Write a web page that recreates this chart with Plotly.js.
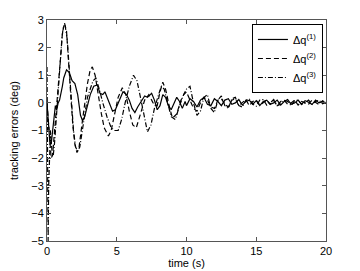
<!DOCTYPE html>
<html>
<head>
<meta charset="utf-8">
<script src="https://cdn.plot.ly/plotly-3.0.1.min.js"></script>
<style>html,body{margin:0;padding:0;background:#fff;}#chart{width:360px;height:271px;}</style>
</head>
<body>
<div id="chart"></div>
<script>
// time samples for the early (transient) part of each series
var t1 = [0,0.1,0.2,0.3,0.4,0.5,0.6,0.7,0.8,0.9,
          1.0,1.1,1.2,1.4,1.6,1.8,2.0,2.2,2.4,2.55,
          2.7,2.9,3.1,3.35,3.6,3.8,4.0,4.15,4.4,4.7,
          4.9,5.1,5.45,5.7,5.9,6.1,6.3,6.5,6.8,7.0,
          7.2,7.5,7.7,7.9,8.1,8.3,8.5,8.7,8.9,9.1,
          9.3,9.5,9.7,9.9];
var dq1 = [0,-0.8,-1.4,-1.5,-1.0,-0.5,-0.1,-0.25,0.0,0.1,
           0.3,0.6,0.9,1.2,1.1,0.8,0.7,0.3,-0.45,-0.65,
           -0.5,-0.1,0.3,0.6,0.65,0.35,0.3,0.4,0.1,-0.3,
           -0.25,0.0,0.4,0.3,0.1,-0.2,-0.35,-0.15,0.1,0.25,
           0.2,0.35,0.1,-0.25,-0.1,0.3,0.2,-0.1,-0.25,0.0,
           0.2,0.05,-0.2,0.05];

var t2 = [0,0.1,0.2,0.3,0.4,0.5,0.6,0.7,0.8,0.9,
          1.0,1.1,1.25,1.4,1.55,1.7,1.85,2.0,2.15,2.3,
          2.5,2.7,2.9,3.1,3.25,3.45,3.7,3.9,4.1,4.4,
          4.6,4.85,5.1,5.4,5.65,5.9,6.15,6.4,6.7,7.0,
          7.3,7.6,7.9,8.1,8.3,8.5,8.8,9.0,9.3,9.6,
          9.8];
var dq2 = [0,-0.8,-1.6,-2.0,-1.9,-1.3,-0.6,-0.3,0.3,1.0,
           1.8,2.5,2.9,2.6,1.6,0.3,-0.8,-1.5,-1.8,-1.6,
           -0.8,0.0,0.7,1.2,1.3,1.0,0.2,-0.4,-0.9,-1.2,
           -1.0,-0.4,0.2,0.55,0.3,-0.3,-0.8,-0.9,-0.4,0.1,
           0.3,0.0,-0.1,0.4,0.75,0.5,-0.2,-0.55,-0.4,0.1,
           0.3];

var t3 = [0,0.04,0.08,0.12,0.18,0.25,0.35,0.45,0.55,0.65,
          0.75,0.85,0.95,1.05,1.15,1.3,1.45,1.6,1.75,1.9,
          2.05,2.2,2.35,2.5,2.7,2.9,3.1,3.3,3.5,3.75,
          4.0,4.3,4.6,4.85,5.1,5.35,5.6,5.9,6.2,6.45,
          6.7,6.95,7.2,7.45,7.7,8.0,8.2,8.4,8.6,8.9,
          9.2,9.5,9.8];
var dq3 = [1.3,-2.0,-5.0,-3.0,-1.5,-1.0,-1.7,-1.9,-1.4,-0.6,
           0.2,0.9,1.6,2.2,2.7,2.8,2.3,1.3,0.0,-1.0,
           -1.6,-1.75,-1.6,-1.1,-0.3,0.2,0.5,0.8,0.9,0.5,
           0.0,-0.5,-0.9,-1.0,-1.0,-0.6,0.0,0.6,1.0,0.8,
           0.2,-0.5,-1.05,-0.8,-0.2,0.3,0.6,0.5,0.1,-0.5,
           -0.6,-0.1,0.3];

// steady-state part (shared time samples)
var tTail = [10,10.25,10.5,10.75,11,11.25,11.5,11.75,12,12.25,
             12.5,12.75,13,13.25,13.5,13.75,14,14.25,14.5,14.75,
             15,15.25,15.5,15.75,16,16.25,16.5,16.75,17,17.25,
             17.5,17.75,18,18.25,18.5,18.75,19,19.25,19.5,19.75,20];
var tail1 = [-0.1,0.15,0.05,-0.15,0.1,0.2,-0.05,-0.1,0.15,0.05,
             -0.1,0.1,0.15,-0.05,0.0,0.12,-0.08,0.05,0.1,-0.05,
             0.08,-0.1,0.05,0.1,-0.05,0.0,0.1,-0.08,0.05,0.12,
             -0.05,0.0,0.1,-0.05,0.08,0.02,-0.06,0.1,0.0,0.05,-0.02];
var tail2 = [0.4,0.1,-0.2,-0.3,0.0,0.2,0.1,-0.15,-0.2,0.1,
             0.15,-0.05,-0.15,0.1,0.15,-0.1,0.0,0.12,-0.1,0.05,
             0.1,-0.08,0.0,0.1,-0.05,0.08,-0.1,0.05,0.1,-0.05,
             0.0,0.1,-0.08,0.05,0.0,-0.05,0.1,0.02,-0.06,0.08,0.0];
var tail3 = [0.5,0.6,0.0,-0.45,-0.3,0.2,0.3,-0.2,-0.35,0.1,
             0.25,-0.1,-0.2,0.15,0.2,-0.1,-0.15,0.1,0.15,-0.05,
             -0.12,0.1,0.12,-0.08,0.0,0.12,-0.1,-0.05,0.1,0.05,
             -0.1,0.08,0.1,-0.06,0.0,0.1,-0.05,0.05,0.1,-0.03,0.02];

var names = ['\u0394q<sup>(1)</sup>','\u0394q<sup>(2)</sup>','\u0394q<sup>(3)</sup>'];
var xTicks = [0,5,10,15,20];
var yTicks = [-5,-4,-3,-2,-1,0,1,2,3];

var lineW = 1.2;
var traces = [
  {x: t1.concat(tTail), y: dq1.concat(tail1), name: names[0], mode:'lines',
   line:{color:'#000', width:lineW, dash:'solid'}},
  {x: t2.concat(tTail), y: dq2.concat(tail2), name: names[1], mode:'lines',
   line:{color:'#000', width:lineW, dash:'5px,3px'}},
  {x: t3.concat(tTail), y: dq3.concat(tail3), name: names[2], mode:'lines',
   line:{color:'#000', width:lineW, dash:'5px,2px,1px,2px'}}
];

var axColor = '#555';
var font = {family:'Liberation Sans, Arial, sans-serif', size:11, color:'#000'};
var layout = {
  width:360, height:271,
  margin:{l:47, r:34, t:20, b:30},
  paper_bgcolor:'#fff', plot_bgcolor:'#fff',
  font: font,
  showlegend:true,
  legend:{x:0.989, y:0.982, xanchor:'right', yanchor:'top',
          bgcolor:'#fff', bordercolor:'#000', borderwidth:1,
          itemwidth:30,
          font:{family:font.family, size:11, color:'#000'},
          tracegroupgap:0},
  xaxis:{range:[0,20], tickvals:xTicks, ticktext:xTicks.map(String),
         showgrid:false, zeroline:false, showline:true, mirror:'ticks',
         linecolor:axColor, linewidth:1, ticks:'inside', ticklen:4, tickcolor:axColor,
         tickfont:font, title:{text:'time (s)', font:font, standoff:2}},
  yaxis:{range:[-5,3], tickvals:yTicks,
         showgrid:false, zeroline:false, showline:true, mirror:'ticks',
         linecolor:axColor, linewidth:1, ticks:'inside', ticklen:4, tickcolor:axColor,
         tickfont:font, title:{text:'tracking errors (deg)', font:font, standoff:10}}
};

Plotly.newPlot('chart', traces, layout, {staticPlot:true, displayModeBar:false});
</script>
</body>
</html>
